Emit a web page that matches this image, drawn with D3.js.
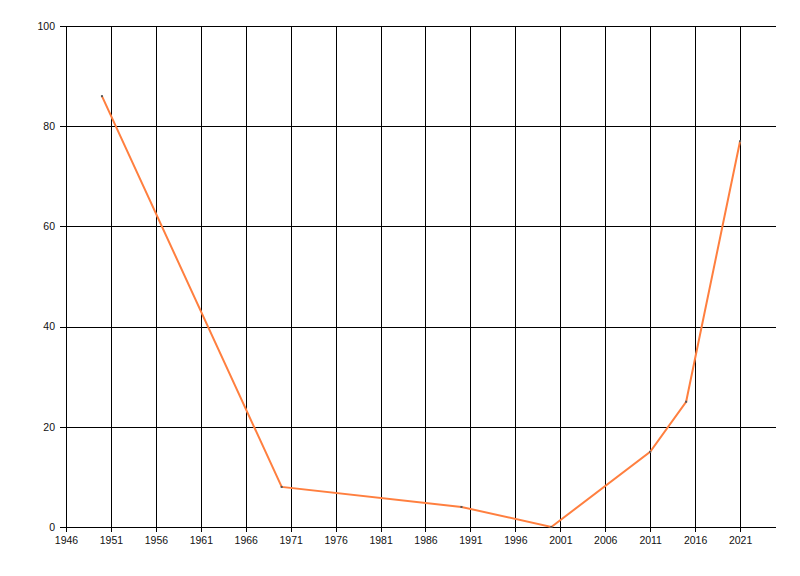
<!DOCTYPE html>
<html>
<head>
<meta charset="utf-8">
<script src="https://cdn.jsdelivr.net/npm/d3@7"></script>
<style>
  html, body { margin: 0; padding: 0; background: #fff; }
  svg { display: block; }
  text { font-family: "Liberation Sans", Arial, sans-serif; font-size: 10.5px; fill: #111; }
</style>
</head>
<body>
<svg id="chart" width="800" height="576"></svg>
<script>
const years = [1950, 1970, 1990, 2000, 2011, 2015, 2021];
const values = [86, 8, 4, 0, 15, 25, 77];
const xTicks = [1946, 1951, 1956, 1961, 1966, 1971, 1976, 1981, 1986, 1991, 1996, 2001, 2006, 2011, 2016, 2021];
const yTicks = [0, 20, 40, 60, 80, 100];

const svg = d3.select("#chart");
const plotLeft = 66, plotRight = 776, plotTop = 26, plotBottom = 527;

const x = d3.scaleLinear().domain([1946, 2025]).range([plotLeft, plotRight]);
const y = d3.scaleLinear().domain([0, 100]).range([plotBottom, plotTop]);

// Horizontal gridlines + y axis ticks
const yAxis = d3.axisLeft(y).tickValues(yTicks).tickSize(-(plotRight - plotLeft)).tickSizeOuter(0).tickPadding(4);
const gy = svg.append("g").attr("transform", `translate(${plotLeft},0)`).call(yAxis);
gy.select(".domain").remove();
gy.selectAll(".tick line").attr("stroke", "#000").attr("shape-rendering", "crispEdges").attr("x1", -6);
gy.selectAll(".tick text").attr("x", -11);

// Vertical gridlines + x axis ticks
const xAxis = d3.axisBottom(x).tickValues(xTicks).tickFormat(d3.format("d")).tickSize(-(plotBottom - plotTop)).tickSizeOuter(0).tickPadding(4);
const gx = svg.append("g").attr("transform", `translate(0,${plotBottom})`).call(xAxis);
gx.select(".domain").remove();
gx.selectAll(".tick line").attr("stroke", "#000").attr("shape-rendering", "crispEdges").attr("y1", 5);
gx.selectAll(".tick text").attr("y", 10);

// Series line
const pts = years.map((yr, i) => [yr, values[i]]);
const line = d3.line().x(d => x(d[0])).y(d => y(d[1]));
svg.append("path").datum(pts).attr("d", line)
  .attr("fill", "none").attr("stroke", "#FF7F3F").attr("stroke-width", 2).attr("stroke-linejoin", "miter");

// Tiny markers
svg.append("g").selectAll("rect").data(pts).join("rect")
  .attr("x", d => x(d[0]) - 1).attr("y", d => y(d[1]) - 1)
  .attr("width", 2).attr("height", 2).attr("fill", "#555");
</script>
</body>
</html>
